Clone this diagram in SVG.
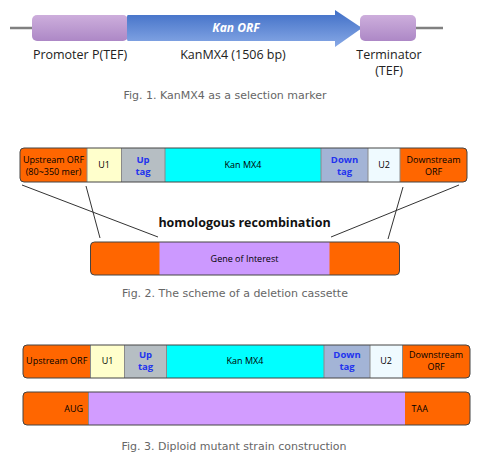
<svg xmlns="http://www.w3.org/2000/svg" width="491" height="465" viewBox="0 0 491 465">
<defs>
<linearGradient id="gPurple" x1="0" y1="0" x2="0" y2="1">
<stop offset="0" stop-color="#cdaedc"/>
<stop offset="1" stop-color="#ad88c6"/>
</linearGradient>
<linearGradient id="gBlue" x1="0" y1="0" x2="0" y2="1">
<stop offset="0" stop-color="#3f6ec6"/>
<stop offset="1" stop-color="#88a9e6"/>
</linearGradient>
<style>
.cap{font-family:"DejaVu Sans",Verdana,sans-serif;font-size:11px;fill:#666;text-anchor:middle}
.lab{font-family:"Open Sans","Noto Sans",sans-serif;font-size:12.5px;fill:#222;text-anchor:middle}
.bx{font-family:"Open Sans","Noto Sans",sans-serif;font-size:9px;fill:#000;text-anchor:middle}
.tag{font-family:"Open Sans","Noto Sans",sans-serif;font-size:9.5px;font-weight:bold;fill:#2233ee;text-anchor:middle}
.outl{fill:none;stroke:#444;stroke-width:1}
.div{stroke:#8a8a8a;stroke-width:1}
.conn{stroke:#333;stroke-width:1;fill:none}
</style>
</defs>
<rect width="491" height="465" fill="#ffffff"/>

<g id="fig1">
<line x1="10" y1="28" x2="443" y2="28" stroke="#808080" stroke-width="2.5"/>
<g id="promoter">
<rect x="32" y="15" width="96" height="26" rx="5" fill="url(#gPurple)"/>
</g>
<g id="kanorf">
<path d="M128,15 L335,15 L335,10 L362,28 L335,47 L335,41 L128,41 Q127,41 127,39 L127,17 Q127,15 128,15 Z" fill="url(#gBlue)"/>
<text x="236" y="32" font-family="'Open Sans','Noto Sans',sans-serif" font-size="12" font-weight="bold" font-style="italic" fill="#ffffff" text-anchor="middle">Kan ORF</text>
</g>
<g id="terminator">
<rect x="360" y="15" width="56" height="26" rx="5" fill="url(#gPurple)"/>
</g>
<text class="lab" x="80" y="59">Promoter P(TEF)</text>
<text class="lab" x="233" y="59">KanMX4 (1506 bp)</text>
<text class="lab" x="389" y="59">Terminator</text>
<text class="lab" x="389" y="75">(TEF)</text>
<text class="cap" x="225" y="99">Fig. 1. KanMX4 as a selection marker</text>
</g>

<g id="fig2">
<g id="cassette">
<rect x="20" y="148" width="447" height="34" rx="4" fill="#ff6600"/>
<rect x="87" y="148" width="34.5" height="34" fill="#ffffcc"/>
<rect x="121.5" y="148" width="43.5" height="34" fill="#b6bec3"/>
<rect x="165" y="148" width="156" height="34" fill="#00ffff"/>
<rect x="321" y="148" width="47" height="34" fill="#a3b4d6"/>
<rect x="368" y="148" width="32" height="34" fill="#effaff"/>
<line class="div" x1="87" y1="148" x2="87" y2="182"/>
<line class="div" x1="121.5" y1="148" x2="121.5" y2="182"/>
<line class="div" x1="165" y1="148" x2="165" y2="182"/>
<line class="div" x1="321" y1="148" x2="321" y2="182"/>
<line class="div" x1="368" y1="148" x2="368" y2="182"/>
<line class="div" x1="400" y1="148" x2="400" y2="182"/>
<rect class="outl" x="20" y="148" width="447" height="34" rx="4"/>
<text class="bx" x="53.5" y="163">Upstream ORF</text>
<text class="bx" x="53.5" y="175">(80~350 mer)</text>
<text class="bx" x="104" y="168">U1</text>
<text class="tag" x="143" y="163">Up</text>
<text class="tag" x="143" y="175">tag</text>
<text class="bx" x="243" y="168">Kan MX4</text>
<text class="tag" x="344.5" y="163">Down</text>
<text class="tag" x="344.5" y="175">tag</text>
<text class="bx" x="384" y="168">U2</text>
<text class="bx" x="433.5" y="163">Downstream</text>
<text class="bx" x="433.5" y="175">ORF</text>
</g>
<g id="connectors">
<line class="conn" x1="22" y1="185" x2="158" y2="237"/>
<line class="conn" x1="86" y1="186" x2="100" y2="238"/>
<line class="conn" x1="403" y1="187" x2="388" y2="239"/>
<line class="conn" x1="459" y1="185" x2="331" y2="237"/>
</g>
<text x="244.5" y="227" font-family="'Open Sans','Noto Sans',sans-serif" font-size="12.5" font-weight="bold" fill="#111" text-anchor="middle">homologous recombination</text>
<g id="gene">
<rect x="90.5" y="242" width="309" height="33" rx="4" fill="#ff6600"/>
<rect x="159.5" y="242" width="170" height="33" fill="#cc99ff"/>
<rect class="outl" x="90.5" y="242" width="309" height="33" rx="4"/>
<text class="bx" x="244.5" y="262">Gene of Interest</text>
</g>
<text class="cap" x="235" y="297">Fig. 2. The scheme of a deletion cassette</text>
</g>

<g id="fig3">
<g id="mutant">
<rect x="23" y="345" width="447" height="33" rx="4" fill="#ff6600"/>
<rect x="90.5" y="345" width="34" height="33" fill="#ffffcc"/>
<rect x="124.5" y="345" width="42" height="33" fill="#b6bec3"/>
<rect x="166.5" y="345" width="157.5" height="33" fill="#00ffff"/>
<rect x="324" y="345" width="46" height="33" fill="#a3b4d6"/>
<rect x="370" y="345" width="32.5" height="33" fill="#effaff"/>
<line class="div" x1="90.5" y1="345" x2="90.5" y2="378"/>
<line class="div" x1="124.5" y1="345" x2="124.5" y2="378"/>
<line class="div" x1="166.5" y1="345" x2="166.5" y2="378"/>
<line class="div" x1="324" y1="345" x2="324" y2="378"/>
<line class="div" x1="370" y1="345" x2="370" y2="378"/>
<line class="div" x1="402.5" y1="345" x2="402.5" y2="378"/>
<rect class="outl" x="23" y="345" width="447" height="33" rx="4"/>
<text class="bx" x="56.7" y="364">Upstream ORF</text>
<text class="bx" x="107.5" y="364">U1</text>
<text class="tag" x="145.5" y="358">Up</text>
<text class="tag" x="145.5" y="370">tag</text>
<text class="bx" x="245" y="364">Kan MX4</text>
<text class="tag" x="347" y="358">Down</text>
<text class="tag" x="347" y="370">tag</text>
<text class="bx" x="386" y="364">U2</text>
<text class="bx" x="436" y="358">Downstream</text>
<text class="bx" x="436" y="370">ORF</text>
</g>
<g id="wildtype">
<rect x="23" y="392" width="447" height="33" rx="4" fill="#ff6600"/>
<rect x="88.5" y="392" width="316.5" height="33" fill="#d29cff"/>
<line class="div" x1="88.5" y1="392" x2="88.5" y2="425"/>
<rect class="outl" x="23" y="392" width="447" height="33" rx="4"/>
<text class="bx" x="83" y="412" style="text-anchor:end">AUG</text>
<text class="bx" x="411.5" y="412" style="text-anchor:start">TAA</text>
</g>
<text class="cap" x="234" y="450">Fig. 3. Diploid mutant strain construction</text>
</g>
</svg>
